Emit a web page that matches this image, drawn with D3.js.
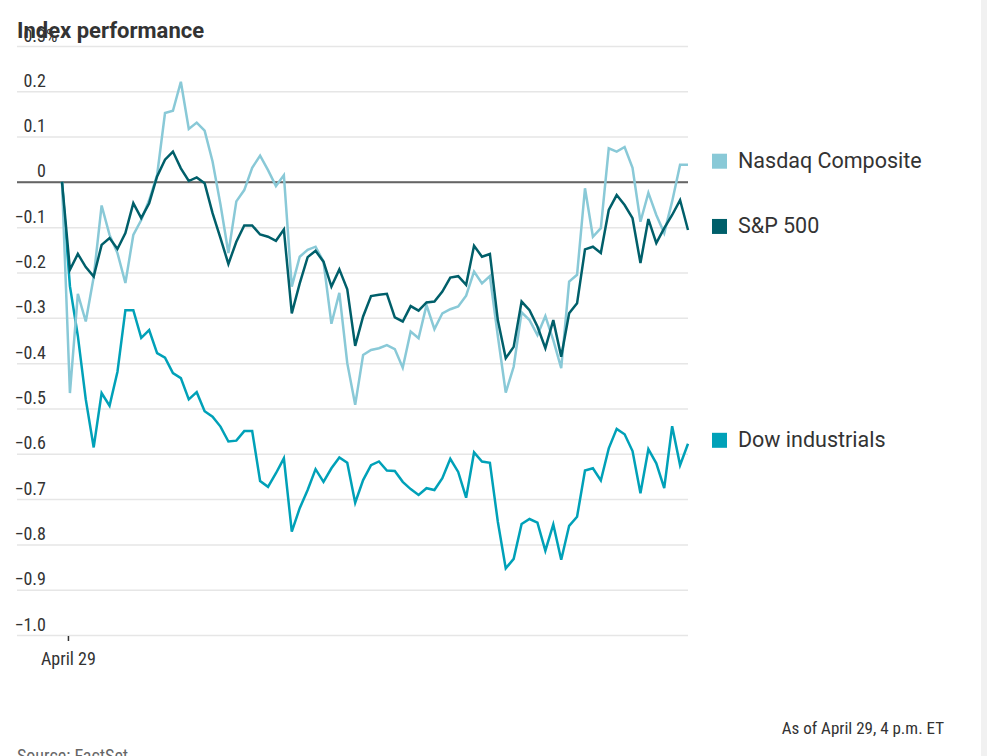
<!DOCTYPE html>
<html>
<head>
<meta charset="utf-8">
<script src="https://cdn.jsdelivr.net/npm/d3@7"></script>
<style>
  body { margin: 0; background: #fff; }
  svg { display: block; }
</style>
</head>
<body>
<div id="chart"></div>
<script>
// values in percent, one point per interval from the open to the close
const nasdaq = [0, -0.466, -0.247, -0.308, -0.21, -0.052, -0.117, -0.157, -0.223, -0.117,
  -0.084, -0.04, 0.015, 0.152, 0.157, 0.221, 0.117, 0.131, 0.113, 0.045,
  -0.05, -0.157, -0.043, -0.018, 0.031, 0.058, 0.026, -0.009, 0.015, -0.231,
  -0.165, -0.15, -0.143, -0.176, -0.313, -0.245, -0.40, -0.492, -0.382, -0.371,
  -0.367, -0.36, -0.369, -0.41, -0.33, -0.345, -0.272, -0.325, -0.29, -0.281,
  -0.275, -0.251, -0.198, -0.224, -0.208, -0.34, -0.465, -0.408, -0.288, -0.305,
  -0.338, -0.296, -0.349, -0.411, -0.22, -0.205, -0.014, -0.121, -0.102, 0.074,
  0.067, 0.077, 0.031, -0.088, -0.024, -0.073, -0.113, -0.043, 0.038, 0.038]
const sp500 = [0, -0.194, -0.159, -0.188, -0.209, -0.139, -0.124, -0.148, -0.113, -0.047,
  -0.08, -0.047, 0.012, 0.049, 0.067, 0.03, 0.002, 0.01, -0.003, -0.069,
  -0.124, -0.181, -0.132, -0.096, -0.096, -0.116, -0.121, -0.13, -0.105, -0.29,
  -0.224, -0.166, -0.152, -0.176, -0.231, -0.193, -0.237, -0.362, -0.297, -0.252,
  -0.249, -0.247, -0.299, -0.308, -0.274, -0.284, -0.266, -0.264, -0.242, -0.211,
  -0.208, -0.227, -0.141, -0.165, -0.159, -0.305, -0.389, -0.364, -0.264, -0.283,
  -0.319, -0.367, -0.305, -0.386, -0.29, -0.268, -0.149, -0.143, -0.157, -0.062,
  -0.029, -0.051, -0.08, -0.179, -0.082, -0.135, -0.102, -0.073, -0.04, -0.106]
const dow = [0, -0.23, -0.34, -0.48, -0.586, -0.466, -0.494, -0.419, -0.283, -0.283,
  -0.344, -0.327, -0.378, -0.388, -0.422, -0.433, -0.48, -0.464, -0.506, -0.518,
  -0.54, -0.573, -0.571, -0.55, -0.55, -0.66, -0.673, -0.643, -0.61, -0.772,
  -0.72, -0.68, -0.634, -0.662, -0.632, -0.608, -0.62, -0.708, -0.658, -0.625,
  -0.617, -0.637, -0.638, -0.662, -0.678, -0.691, -0.676, -0.68, -0.654, -0.611,
  -0.64, -0.697, -0.597, -0.617, -0.62, -0.75, -0.853, -0.832, -0.755, -0.744,
  -0.752, -0.814, -0.756, -0.834, -0.759, -0.739, -0.637, -0.632, -0.659, -0.588,
  -0.545, -0.557, -0.594, -0.687, -0.59, -0.621, -0.676, -0.539, -0.625, -0.578]

const seriesNames = ["Nasdaq Composite", "S&P 500", "Dow industrials"]
const seriesColors = ["#89c9d7", "#005f6a", "#00a1b8"]
const yTicks = [0.3, 0.2, 0.1, 0, -0.1, -0.2, -0.3, -0.4, -0.5, -0.6, -0.7, -0.8, -0.9, -1.0]
const xTickValues = [0.75]
const xTickLabels = ["April 29"]

const W = 987, H = 756
const LEFT = 17, RIGHT = 688, TOP = 46, BOTTOM = 635
const PLOT_X0 = 62

const condensed = "'Liberation Sans Narrow', 'Arial Narrow', 'Roboto Condensed', Roboto, sans-serif"
const regular = "Roboto, 'Noto Sans', sans-serif"

const svg = d3.select("#chart").append("svg")
  .attr("width", W)
  .attr("height", H)

// light strip on the right edge
svg.append("rect")
  .attr("x", 981).attr("y", 0)
  .attr("width", 6).attr("height", H)
  .attr("fill", "#f1f1f1")

const x = d3.scaleLinear()
  .domain([0, nasdaq.length - 1])
  .range([PLOT_X0, RIGHT])
const y = d3.scaleLinear()
  .domain([-1.0, 0.3])
  .range([BOTTOM, TOP])

// Y axis with gridlines
const yAxis = svg.append("g")
  .attr("transform", `translate(${LEFT}, 0)`)
  .call(d3.axisLeft(y)
    .tickValues(yTicks)
    .tickSize(-(RIGHT - LEFT))
    .tickFormat(d => d === 0 ? "0" : d3.format(".1f")(d)))
yAxis.select(".domain").remove()
yAxis.selectAll(".tick line")
  .attr("stroke", d => d === 0 ? "#666" : "#e6e6e6")
  .attr("stroke-width", 1.5)
yAxis.selectAll(".tick text")
  .attr("x", 46 - LEFT)
  .attr("dy", -5)
  .attr("text-anchor", "end")
  .attr("fill", "#333")
  .attr("font-family", condensed)
  .attr("font-size", "18px")
// percent sign on the top label
yAxis.selectAll(".tick").filter(d => d === yTicks[0])
  .append("text")
  .attr("x", 46 - LEFT)
  .attr("dy", -5)
  .attr("text-anchor", "start")
  .attr("fill", "#333")
  .attr("font-family", condensed)
  .attr("font-size", "18px")
  .text("%")

// zero line on top of the others
svg.append("line")
  .attr("x1", LEFT).attr("x2", RIGHT)
  .attr("y1", y(0)).attr("y2", y(0))
  .attr("stroke", "#666")
  .attr("stroke-width", 1.5)

// X axis
const xAxis = svg.append("g")
  .attr("transform", `translate(0, ${BOTTOM + 1})`)
  .call(d3.axisBottom(x)
    .tickValues(xTickValues)
    .tickSize(5)
    .tickFormat((d, i) => xTickLabels[i]))
xAxis.select(".domain").remove()
xAxis.selectAll(".tick line").attr("stroke", "#333").attr("stroke-width", 1.5)
xAxis.selectAll(".tick text")
  .attr("y", 16)
  .attr("fill", "#333")
  .attr("font-family", condensed)
  .attr("font-size", "18px")

// Lines
const line = d3.line()
  .x((d, i) => x(i))
  .y(d => y(d))

const allSeries = [nasdaq, sp500, dow]
const drawOrder = [2, 0, 1]
drawOrder.forEach(k => {
  svg.append("path")
    .datum(allSeries[k])
    .attr("fill", "none")
    .attr("stroke", seriesColors[k])
    .attr("stroke-width", 2.5)
    .attr("stroke-linejoin", "miter")
    .attr("d", line)
})

// Legend, aligned with each series' last value
allSeries.forEach((s, k) => {
  const ly = y(s[s.length - 1])
  svg.append("rect")
    .attr("x", 712).attr("y", ly - 11)
    .attr("width", 15).attr("height", 15)
    .attr("fill", seriesColors[k])
  svg.append("text")
    .attr("x", 738).attr("y", ly + 3)
    .attr("fill", "#333")
    .attr("font-family", regular)
    .attr("font-size", "21.5px")
    .text(seriesNames[k])
})

// Title
svg.append("text")
  .attr("x", LEFT).attr("y", 38)
  .attr("fill", "#333")
  .attr("font-family", regular)
  .attr("font-weight", "bold")
  .attr("font-size", "22px")
  .text("Index performance")

// Footer
svg.append("text")
  .attr("x", 944).attr("y", 734)
  .attr("text-anchor", "end")
  .attr("fill", "#333")
  .attr("font-family", condensed)
  .attr("font-size", "17px")
  .text("As of April 29, 4 p.m. ET")
svg.append("text")
  .attr("x", LEFT).attr("y", 762)
  .attr("fill", "#666")
  .attr("font-family", condensed)
  .attr("font-size", "18px")
  .text("Source: FactSet")
</script>
</body>
</html>
